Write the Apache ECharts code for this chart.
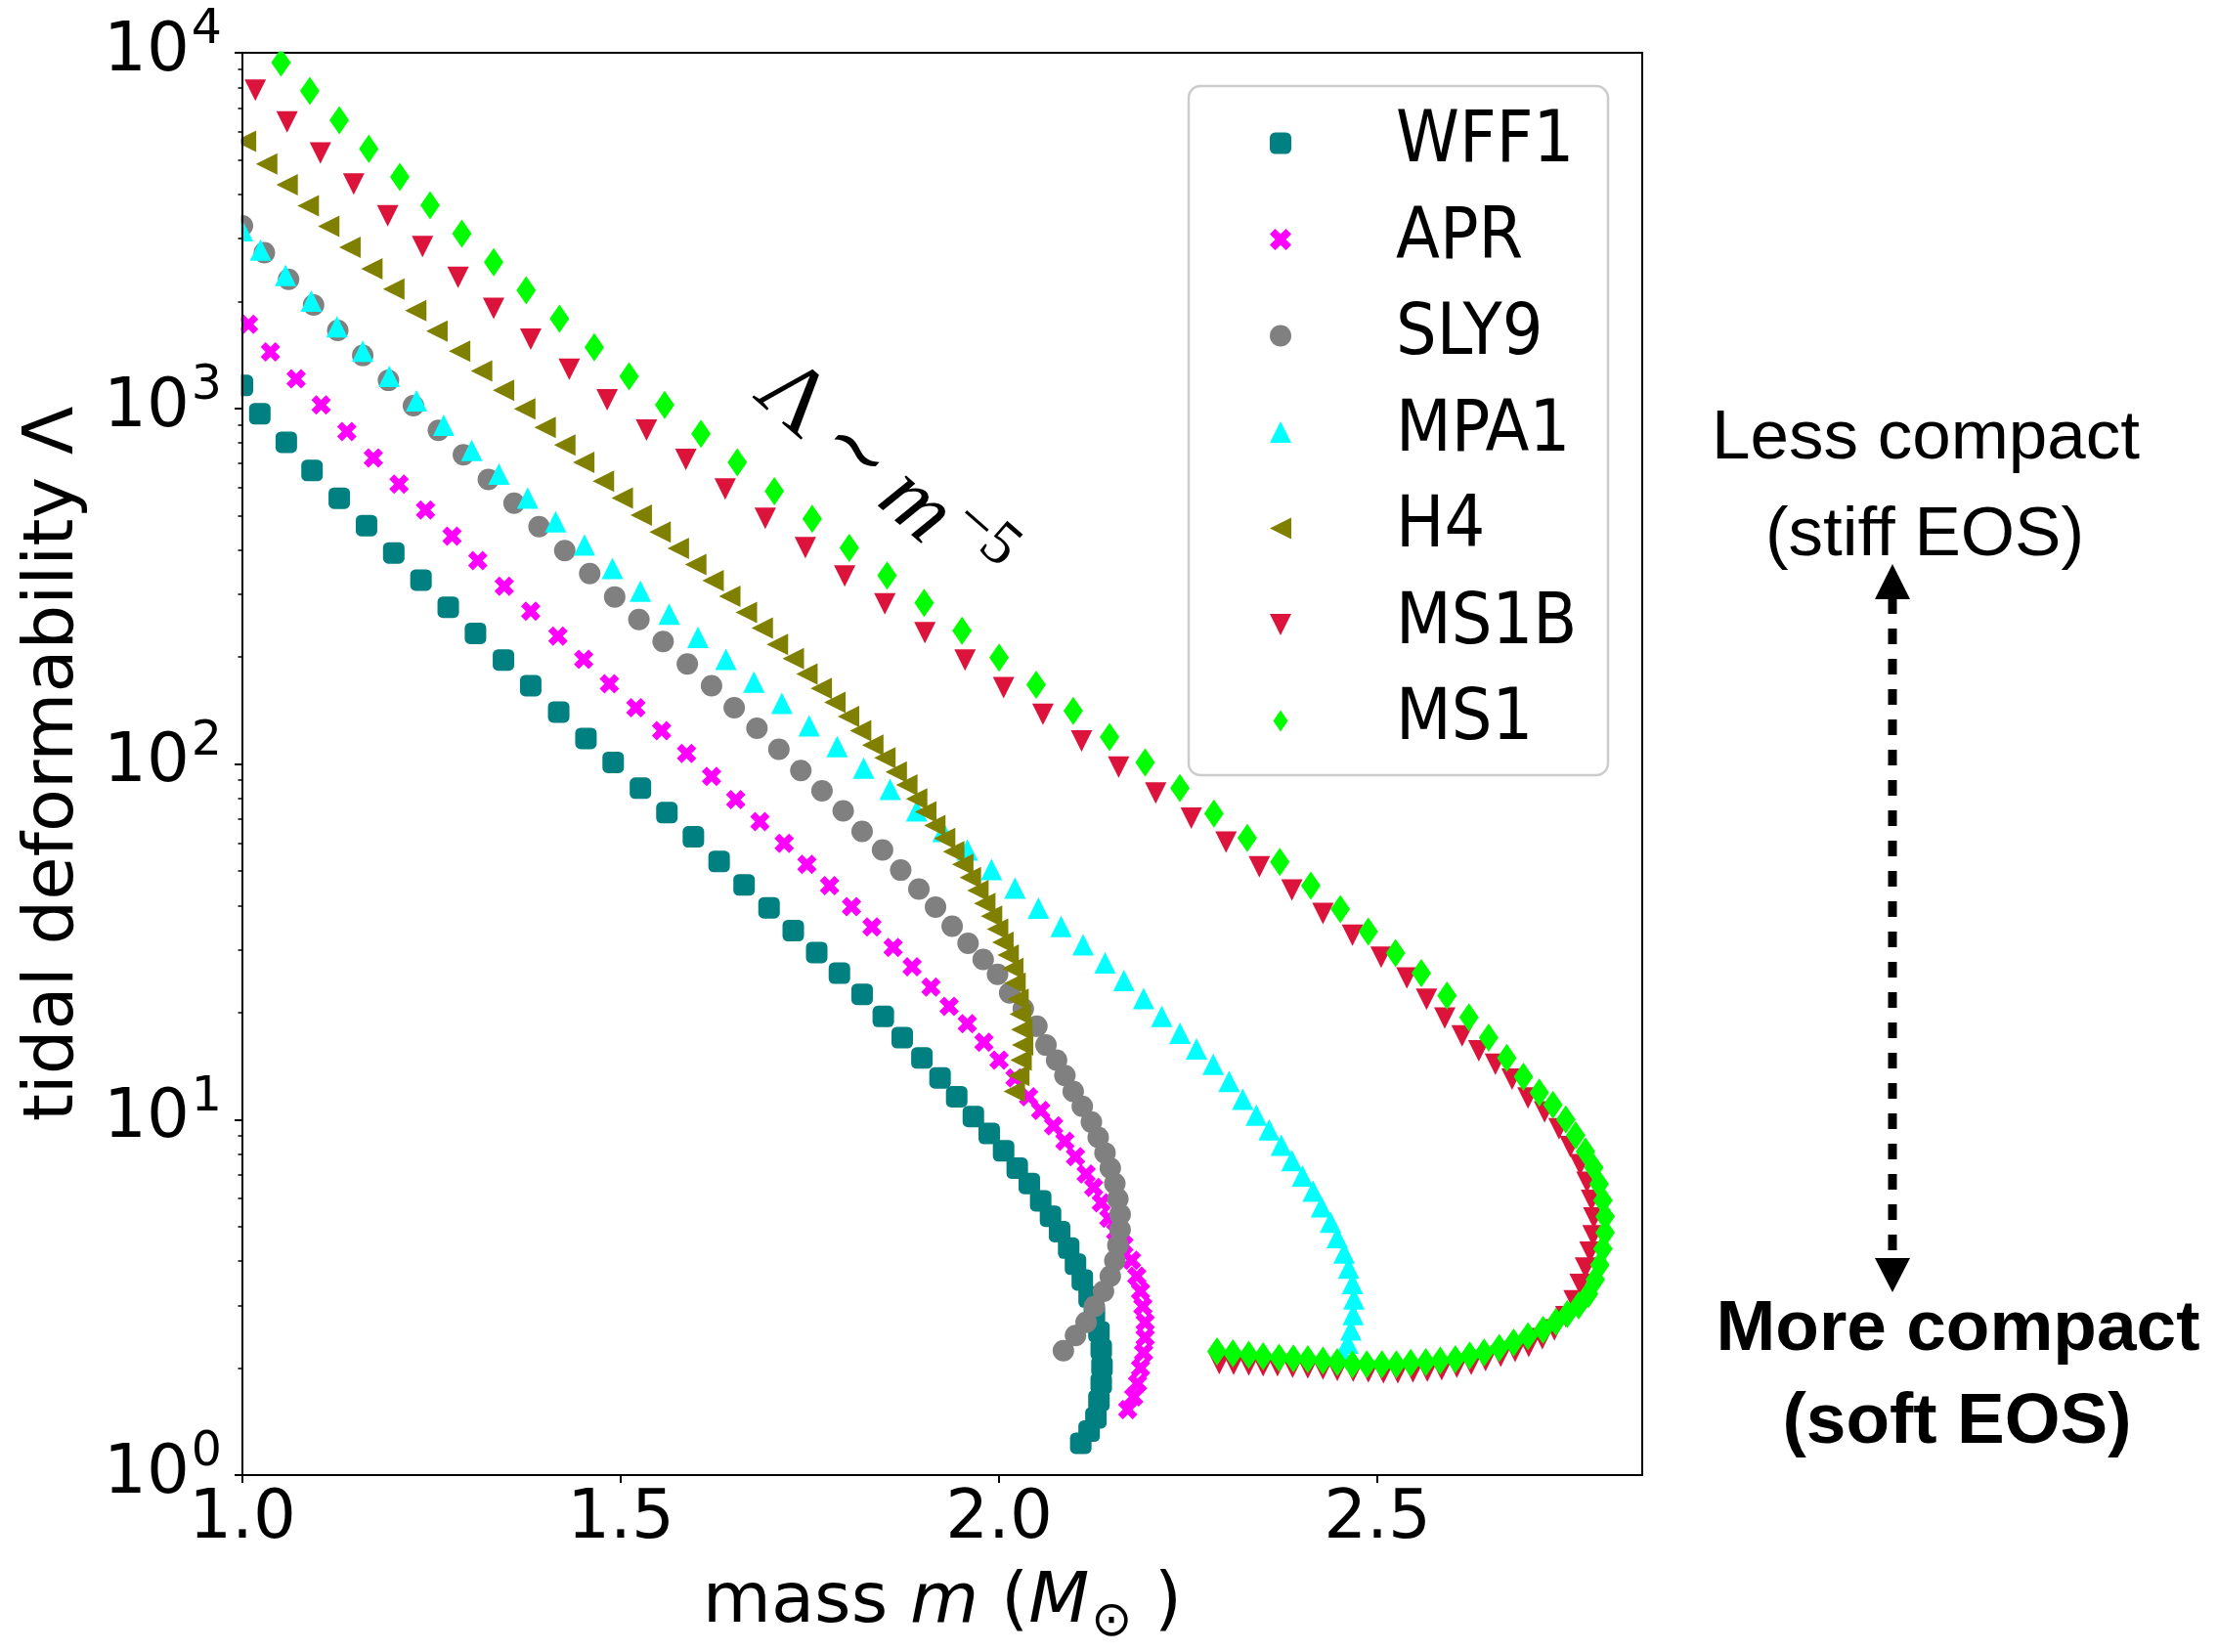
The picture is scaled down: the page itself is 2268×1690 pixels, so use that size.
<!DOCTYPE html>
<html><head><meta charset="utf-8">
<script src="https://cdn.jsdelivr.net/npm/echarts@6/dist/echarts.min.js"></script>
<style>html,body{margin:0;padding:0;background:#fff}#c{width:2268px;height:1690px}</style>
</head><body><div id="c"></div>
<script>
// ---------------- data: [mass m (Msun), tidal deformability Lambda] ----------------
const seriesNames = ['WFF1', 'APR', 'SLY9', 'MPA1', 'H4', 'MS1B', 'MS1'];

const WFF1 = [[1.000,1160],[1.023,966],[1.058,803],[1.092,669],[1.128,559],[1.164,468],[1.200,392],[1.236,329],[1.272,276],[1.308,233],[1.345,196],[1.381,166],[1.418,140],[1.454,118],[1.490,101],[1.526,85.5],[1.561,73.0],[1.596,62.4],[1.630,53.2],[1.663,45.7],[1.696,39.4],[1.728,34.0],[1.759,29.5],[1.789,25.8],[1.819,22.5],[1.847,19.5],[1.872,17.0],[1.898,14.9],[1.922,13.1],[1.944,11.6],[1.966,10.2],[1.987,9.14],[2.006,8.17],[2.024,7.30],[2.040,6.61],[2.055,5.91],[2.068,5.35],[2.080,4.84],[2.092,4.35],[2.101,3.92],[2.110,3.54],[2.119,3.17],[2.126,2.83],[2.132,2.53],[2.135,2.26],[2.136,2.02],[2.135,1.81],[2.132,1.62],[2.128,1.45],[2.119,1.33],[2.108,1.23]];

const APR = [[1.008,1725],[1.037,1442],[1.071,1211],[1.104,1022],[1.138,861],[1.173,725],[1.207,612],[1.242,518],[1.277,437],[1.311,373],[1.346,316],[1.381,269],[1.417,229],[1.451,197],[1.485,168],[1.520,144],[1.554,124],[1.587,107],[1.620,92.3],[1.652,79.4],[1.684,68.9],[1.716,59.8],[1.746,52.2],[1.776,45.5],[1.805,39.7],[1.832,34.8],[1.860,30.5],[1.885,26.9],[1.910,23.6],[1.934,20.8],[1.958,18.6],[1.980,16.5],[2.000,14.7],[2.021,13.1],[2.039,11.6],[2.055,10.6],[2.072,9.60],[2.087,8.69],[2.101,7.86],[2.115,7.03],[2.125,6.44],[2.135,5.83],[2.145,5.28],[2.154,4.84],[2.165,4.44],[2.175,4.02],[2.182,3.63],[2.187,3.29],[2.190,2.98],[2.193,2.69],[2.193,2.44],[2.191,2.21],[2.187,2.00],[2.183,1.81],[2.178,1.66],[2.170,1.53]];

const SLY9 = [[1.000,3260],[1.029,2742],[1.061,2307],[1.094,1953],[1.126,1657],[1.159,1409],[1.193,1199],[1.226,1018],[1.259,867],[1.292,740],[1.325,631],[1.359,541],[1.392,465],[1.426,398],[1.459,343],[1.492,295],[1.524,255],[1.556,221],[1.588,191],[1.620,166],[1.650,144],[1.680,126],[1.709,110],[1.738,95.9],[1.766,84.0],[1.794,73.8],[1.819,64.6],[1.846,57.3],[1.870,50.3],[1.894,44.5],[1.916,39.6],[1.938,35.0],[1.959,31.3],[1.979,28.2],[1.998,25.6],[2.014,22.7],[2.032,20.5],[2.050,18.3],[2.062,16.2],[2.076,14.7],[2.087,13.3],[2.098,12.0],[2.110,10.9],[2.122,9.84],[2.131,8.91],[2.140,8.06],[2.147,7.30],[2.153,6.61],[2.157,5.98],[2.160,5.41],[2.160,4.90],[2.157,4.43],[2.153,4.01],[2.147,3.63],[2.138,3.29],[2.126,2.98],[2.115,2.69],[2.101,2.47],[2.085,2.24]];

const MPA1 = [[1.000,3160],[1.024,2790],[1.057,2367],[1.091,2004],[1.125,1698],[1.159,1448],[1.194,1231],[1.230,1050],[1.266,897],[1.303,762],[1.339,653],[1.377,560],[1.414,480],[1.452,413],[1.489,355],[1.526,306],[1.564,264],[1.602,227],[1.639,197],[1.676,170],[1.713,148],[1.749,128],[1.786,112],[1.821,97.3],[1.856,84.9],[1.891,73.8],[1.926,64.6],[1.958,57.3],[1.990,50.5],[2.021,44.8],[2.052,39.3],[2.082,34.9],[2.111,31.0],[2.140,27.6],[2.165,24.6],[2.191,21.9],[2.215,19.5],[2.239,17.5],[2.261,15.8],[2.283,14.3],[2.304,12.8],[2.322,11.4],[2.340,10.3],[2.357,9.36],[2.373,8.47],[2.387,7.67],[2.401,6.94],[2.415,6.29],[2.426,5.69],[2.438,5.15],[2.447,4.66],[2.456,4.22],[2.462,3.82],[2.467,3.46],[2.469,3.13],[2.468,2.83],[2.465,2.56],[2.461,2.35],[2.454,2.20]];

const H4 = [[1.004,5640],[1.032,4864],[1.059,4257],[1.087,3715],[1.114,3250],[1.142,2838],[1.171,2470],[1.200,2164],[1.229,1884],[1.257,1650],[1.287,1448],[1.316,1274],[1.345,1124],[1.373,997],[1.400,884],[1.426,789],[1.451,705],[1.477,624],[1.502,560],[1.527,501],[1.552,449],[1.576,404],[1.599,364],[1.622,328],[1.644,296],[1.666,267],[1.687,241],[1.707,217],[1.728,198],[1.746,179],[1.765,163],[1.783,149],[1.801,136],[1.817,124],[1.833,113],[1.849,104],[1.864,94.9],[1.878,87.3],[1.891,79.8],[1.903,73.3],[1.915,67.1],[1.928,61.7],[1.940,56.7],[1.952,52.2],[1.962,47.9],[1.972,44.1],[1.981,40.5],[1.990,37.3],[1.998,34.3],[2.005,31.5],[2.012,29.0],[2.018,26.6],[2.021,24.2],[2.025,21.8],[2.028,19.8],[2.030,17.9],[2.031,16.2],[2.029,14.7],[2.026,13.3],[2.020,12.0]];

const MS1B = [[1.017,7850],[1.059,6393],[1.103,5224],[1.147,4272],[1.192,3479],[1.238,2850],[1.285,2335],[1.332,1911],[1.381,1566],[1.432,1288],[1.482,1057],[1.534,869],[1.586,718],[1.638,593],[1.691,491],[1.744,406],[1.796,338],[1.849,282],[1.902,234],[1.955,196],[2.006,164],[2.058,138],[2.109,116],[2.158,98.0],[2.207,82.8],[2.254,70.4],[2.300,60.3],[2.344,51.4],[2.387,44.2],[2.428,38.0],[2.467,33.0],[2.505,28.6],[2.539,25.0],[2.565,21.8],[2.589,19.3],[2.612,17.2],[2.634,15.6],[2.656,14.3],[2.678,13.0],[2.699,11.5],[2.721,10.5],[2.740,9.42],[2.755,8.39],[2.768,7.47],[2.777,6.66],[2.783,5.93],[2.786,5.29],[2.785,4.71],[2.781,4.24],[2.775,3.82],[2.768,3.44],[2.760,3.09],[2.749,2.79],[2.734,2.56],[2.718,2.42],[2.700,2.30],[2.682,2.23],[2.663,2.16],[2.643,2.10],[2.624,2.05],[2.605,2.01],[2.585,1.98],[2.566,1.96],[2.547,1.95],[2.527,1.94],[2.508,1.94],[2.488,1.95],[2.468,1.96],[2.447,1.97],[2.428,1.99],[2.408,2.00],[2.388,2.01],[2.368,2.03],[2.349,2.03],[2.330,2.04],[2.310,2.05],[2.291,2.06]];

const MS1 = [[1.051,9390],[1.089,7810],[1.128,6460],[1.167,5370],[1.208,4475],[1.248,3727],[1.290,3099],[1.332,2578],[1.375,2147],[1.419,1788],[1.465,1486],[1.511,1230],[1.558,1023],[1.606,848],[1.654,705],[1.703,585],[1.753,489],[1.802,405],[1.852,339],[1.901,284],[1.951,237],[2.000,199],[2.049,167],[2.098,141],[2.146,119],[2.193,101],[2.239,85.5],[2.284,72.6],[2.328,61.9],[2.371,53.0],[2.412,45.5],[2.451,39.1],[2.488,33.8],[2.524,29.4],[2.558,25.8],[2.592,22.3],[2.621,19.4],[2.647,17.0],[2.671,14.9],[2.693,13.2],[2.714,11.9],[2.732,11.0],[2.749,10.0],[2.762,9.03],[2.775,8.13],[2.786,7.32],[2.793,6.59],[2.798,5.93],[2.801,5.34],[2.801,4.81],[2.798,4.33],[2.794,3.90],[2.788,3.55],[2.779,3.23],[2.766,3.00],[2.751,2.84],[2.736,2.70],[2.719,2.56],[2.699,2.46],[2.680,2.36],[2.661,2.28],[2.641,2.21],[2.622,2.17],[2.603,2.12],[2.583,2.10],[2.564,2.08],[2.544,2.07],[2.525,2.05],[2.506,2.05],[2.486,2.05],[2.467,2.05],[2.447,2.08],[2.428,2.10],[2.408,2.12],[2.389,2.13],[2.370,2.14],[2.349,2.16],[2.330,2.18],[2.309,2.20],[2.288,2.23]];

// ---------------- axis ticks ----------------
const massTicks = [1.0, 1.5, 2.0, 2.5];
const lambdaTicks = [1, 10, 100, 1000, 10000];
const lambdaMinorTicks = [2,3,4,5,6,7,8,9,20,30,40,50,60,70,80,90,200,300,400,500,600,700,800,900,2000,3000,4000,5000,6000,7000,8000,9000];

// ---------------- styling ----------------
const TICK_FONT = "'DejaVu Sans', sans-serif";
const LEGEND_FONT = "'DejaVu Sans Condensed', 'DejaVu Sans', sans-serif";
const TITLE_FONT = "'DejaVu Sans', sans-serif";
const ANNO_FONT = "'Liberation Sans', Arial, sans-serif";
const X_PATH = 'path://M1,0L2,1L1,2L0,1L-1,2L-2,1L-1,0L-2,-1L-1,-2L0,-1L1,-2L2,-1Z';
const THIN_DIAMOND = 'path://M0,-14L9.5,0L0,14L-9.5,0Z';
const TRI_LEFT = 'path://M0,1L2,0L2,2Z';
const TRI_DOWN = 'path://M0,0L2,0L1,2Z';
const TRI_UP = 'path://M1,0L2,2L0,2Z';

const styles = {
  WFF1: {data: WFF1, color: '#008080', symbol: 'roundRect', size: 22},
  APR:  {data: APR,  color: '#ff00ff', symbol: X_PATH, size: 20},
  SLY9: {data: SLY9, color: '#808080', symbol: 'circle', size: 22},
  MPA1: {data: MPA1, color: '#00ffff', symbol: TRI_UP, size: 22},
  H4:   {data: H4,   color: '#808000', symbol: TRI_LEFT, size: 22},
  MS1B: {data: MS1B, color: '#dc143c', symbol: TRI_DOWN, size: 22},
  MS1:  {data: MS1,  color: '#00ff00', symbol: THIN_DIAMOND, size: [20, 29]}
};

const series = seriesNames.map(name => {
  const s = styles[name];
  return {
    name, type: 'scatter', data: s.data,
    xAxisIndex: 0, yAxisIndex: 0,
    symbol: s.symbol, symbolSize: s.size,
    itemStyle: {color: s.color, opacity: 1},
    emphasis: {disabled: true},
    silent: true, animation: false
  };
});

const chart = echarts.init(document.getElementById('c'), null, {renderer: 'canvas', width: 2268, height: 1690});

const option = {
  backgroundColor: '#fff',
  animation: false,
  grid: {left: 248, top: 54, width: 1432, height: 1462, show: true, borderColor: '#000', borderWidth: 2, backgroundColor: 'transparent'},
  xAxis: {
    type: 'value', min: 1.0, max: 2.85, interval: 0.5, z: 10,
    axisLine: {show: true, onZero: false, lineStyle: {color: '#000', width: 2}},
    axisTick: {show: true, length: 8, inside: false, customValues: massTicks, lineStyle: {color: '#000', width: 2}},
    axisLabel: {show: true, customValues: massTicks, margin: 11,
      formatter: v => Number(v).toFixed(1),
      color: '#000', fontSize: 69, fontFamily: TICK_FONT, lineHeight: 70},
    splitLine: {show: false},
    name: '{n|mass }{i|m}{n| (}{i|M}{sub|\u2299}{n| )}',
    nameLocation: 'middle', nameGap: 85,
    nameTextStyle: {color: '#000', fontSize: 72, fontFamily: TITLE_FONT, lineHeight: 80,
      rich: {
        n: {fontSize: 72, fontFamily: TITLE_FONT, lineHeight: 80, color: '#000'},
        i: {fontSize: 72, fontFamily: TITLE_FONT, fontStyle: 'italic', lineHeight: 80, color: '#000'},
        sub: {fontSize: 50, fontFamily: TITLE_FONT, lineHeight: 50, padding: [40, 0, 0, 2], color: '#000'}
      }}
  },
  yAxis: [{
    type: 'log', logBase: 10, min: 1, max: 10000, z: 10,
    axisLine: {show: true, onZero: false, lineStyle: {color: '#000', width: 2}},
    axisTick: {show: true, length: 8, customValues: lambdaTicks, lineStyle: {color: '#000', width: 2}},
    axisLabel: {show: true, customValues: lambdaTicks, margin: 21,
      formatter: v => '{b|10}{s|' + Math.round(Math.log10(v)) + '}',
      rich: {
        b: {fontSize: 69, fontFamily: TICK_FONT, lineHeight: 70, color: '#000'},
        s: {fontSize: 49, fontFamily: TICK_FONT, lineHeight: 49, padding: [0, 0, 45, 2], color: '#000'}
      }},
    splitLine: {show: false},
    name: 'tidal deformability \u039b',
    nameLocation: 'middle', nameGap: 153,
    nameTextStyle: {color: '#000', fontSize: 72, fontFamily: TITLE_FONT, lineHeight: 80}
  }, {
    type: 'log', logBase: 10, min: 1, max: 10000, position: 'left', z: 10,
    axisLine: {show: false}, splitLine: {show: false}, axisLabel: {show: false},
    axisTick: {show: true, length: 4.5, customValues: lambdaMinorTicks, lineStyle: {color: '#000', width: 1.5}}
  }],
  legend: {
    data: seriesNames.map(name => ({name, icon: styles[name].symbol})),
    orient: 'vertical', left: 1299, top: 110, padding: 0,
    itemWidth: 22, itemHeight: 22, itemGap: 25.5, selectedMode: false, z: 30,
    formatter: name => '{sp|}{t|' + name + '}',
    textStyle: {color: '#000', fontSize: 73, fontFamily: LEGEND_FONT, lineHeight: 70,
      rich: {sp: {width: 102}, t: {fontSize: 73, fontFamily: LEGEND_FONT, lineHeight: 70, color: '#000'}}}
  },
  graphic: [
    // white masks emulating the clipping of markers at the plot edges (drawn under the axes)
    {type: 'rect', z: 5, silent: true, shape: {x: 150, y: 0, width: 96.5, height: 1690}, style: {fill: '#fff'}},
    {type: 'rect', z: 5, silent: true, shape: {x: 150, y: 0, width: 1560, height: 52.5}, style: {fill: '#fff'}},
    {type: 'rect', z: 25, silent: true, shape: {x: 1216, y: 88, width: 429, height: 705, r: 12},
      style: {fill: '#fff', stroke: '#cccccc', lineWidth: 2.5}},
    {type: 'text', z: 26, silent: true, x: 901, y: 488, rotation: -41 * Math.PI / 180,
      style: {text: '{L|\u039b}{t|\u223c}{m|m}{s|\u22125}', align: 'center', verticalAlign: 'middle', fill: '#000',
        rich: {
          L: {fontFamily: "'Liberation Serif', serif", fontSize: 94, fill: '#000'},
          t: {fontFamily: "'DejaVu Serif', serif", fontSize: 80, padding: [0, 16, 0, 16], fill: '#000'},
          m: {fontFamily: "'Liberation Serif', serif", fontStyle: 'italic', fontSize: 92, fill: '#000'},
          s: {fontFamily: "'Liberation Serif', serif", fontSize: 64, padding: [0, 0, 52, 6], fill: '#000'}
        }}},
    {type: 'text', z: 26, silent: true, x: 1970, y: 449,
      style: {text: 'Less compact', align: 'center', verticalAlign: 'middle', fill: '#000', font: "71px " + ANNO_FONT}},
    {type: 'text', z: 26, silent: true, x: 1969, y: 548,
      style: {text: '(stiff EOS)', align: 'center', verticalAlign: 'middle', fill: '#000', font: "71px " + ANNO_FONT}},
    {type: 'text', z: 26, silent: true, x: 2003, y: 1361,
      style: {text: 'More compact', align: 'center', verticalAlign: 'middle', fill: '#000', font: "bold 73px " + ANNO_FONT}},
    {type: 'text', z: 26, silent: true, x: 2002, y: 1456,
      style: {text: '(soft EOS)', align: 'center', verticalAlign: 'middle', fill: '#000', font: "bold 73px " + ANNO_FONT}},
    {type: 'line', z: 26, silent: true, shape: {x1: 1936, y1: 612, x2: 1936, y2: 1290},
      style: {stroke: '#000', lineWidth: 9, lineDash: [16, 15]}},
    {type: 'polygon', z: 26, silent: true, shape: {points: [[1918, 613], [1954, 613], [1936, 577]]}, style: {fill: '#000'}},
    {type: 'polygon', z: 26, silent: true, shape: {points: [[1918, 1287], [1954, 1287], [1936, 1322]]}, style: {fill: '#000'}}
  ],
  series
};
chart.setOption(option);
</script>
</body></html>
